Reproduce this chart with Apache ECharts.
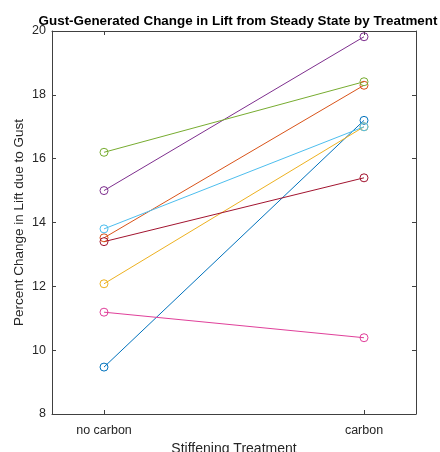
<!DOCTYPE html>
<html>
<head>
<meta charset="utf-8">
<script src="https://cdn.jsdelivr.net/npm/echarts@6/dist/echarts.min.js"></script>
<style>html,body{margin:0;padding:0;background:#fff;}#c{width:440px;height:452px;}</style>
</head>
<body>
<div id="c"></div>
<script>
var categories = ['no carbon', 'carbon'];
var yTicks = [8, 10, 12, 14, 16, 18, 20];
var seriesColors = ['#0072BD', '#D95319', '#EDB120', '#7E2F8E', '#77AC30', '#4DBEEE', '#A2142F', '#E0409A'];
var noCarbon = [9.47, 13.52, 12.08, 15.0, 16.2, 13.8, 13.4, 11.19];
var carbon   = [17.2, 18.3, 17.0, 19.82, 18.41, 17.0, 15.4, 10.39];

var chart = echarts.init(document.getElementById('c'), null, {renderer: 'canvas'});
var font = 'Liberation Sans, Arial, sans-serif';
var axisColor = '#404040';
var series = noCarbon.map(function (v, i) {
  return {
    type: 'line',
    data: [[1, v], [2, carbon[i]]],
    symbol: 'circle',
    symbolSize: 8,
    showSymbol: true,
    lineStyle: {color: seriesColors[i], width: 1},
    itemStyle: {color: 'rgba(255,255,255,0)', borderColor: seriesColors[i], borderWidth: 1},
    emphasis: {disabled: true},
    animation: false,
    z: 2
  };
});
var xAxisBase = {
  type: 'value', min: 0.8, max: 2.2,
  splitLine: {show: false},
  axisLine: {show: true, lineStyle: {color: axisColor, width: 1}},
  axisTick: {show: true, inside: true, length: 4, customValues: [1, 2], lineStyle: {color: axisColor}},
  axisLabel: {show: true, customValues: [1, 2], color: '#262626', fontFamily: font, fontSize: 12.5, margin: 10,
    formatter: function (v) { return categories[Math.round(v) - 1] || ''; }}
};
var yAxisBase = {
  type: 'value', min: yTicks[0], max: yTicks[yTicks.length - 1], interval: 2,
  splitLine: {show: false},
  axisLine: {show: true, lineStyle: {color: axisColor, width: 1}},
  axisTick: {show: true, inside: true, length: 4, lineStyle: {color: axisColor}},
  axisLabel: {show: true, color: '#262626', fontFamily: font, fontSize: 12.5, margin: 6}
};
chart.setOption({
  animation: false,
  backgroundColor: '#fff',
  title: {
    text: 'Gust-Generated Change in Lift from Steady State by Treatment',
    left: 233, top: 10, textAlign: 'center',
    textStyle: {fontFamily: font, fontSize: 13.4, fontWeight: 'bold', color: '#000'}
  },
  grid: {left: 52, right: 24, top: 31, bottom: 38, containLabel: false, outerBoundsMode: 'none'},
  xAxis: [
    Object.assign({}, xAxisBase, {position: 'bottom', name: 'Stiffening Treatment', nameLocation: 'middle', nameGap: 28,
      nameMoveOverlap: false,
      nameTextStyle: {fontFamily: font, fontSize: 14, color: '#262626'}}),
    Object.assign({}, xAxisBase, {position: 'top', axisLabel: {show: false}})
  ],
  yAxis: [
    Object.assign({}, yAxisBase, {position: 'left', name: 'Percent Change in Lift due to Gust', nameLocation: 'middle', nameGap: 26,
      nameMoveOverlap: false,
      nameTextStyle: {fontFamily: font, fontSize: 13.5, color: '#262626'}}),
    Object.assign({}, yAxisBase, {position: 'right', axisLabel: {show: false}})
  ],
  series: series
});
</script>
</body>
</html>
